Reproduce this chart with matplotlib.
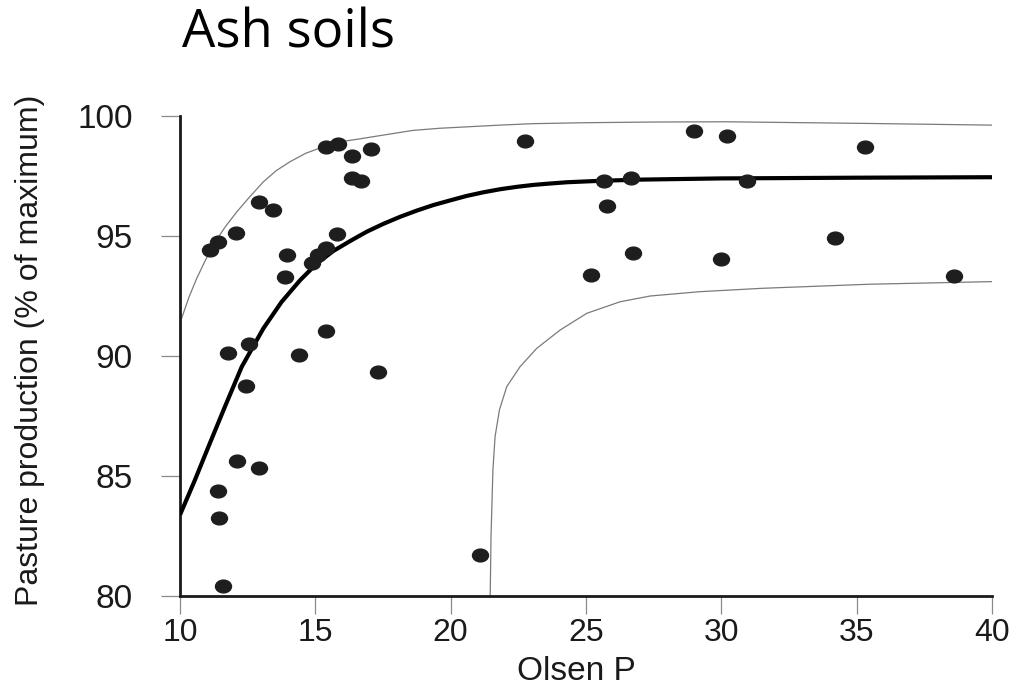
import matplotlib
matplotlib.use("Agg")
import matplotlib.pyplot as plt
from matplotlib.path import Path

# puntos medidos (Olsen P, % del maximo)
olsen_p = [11.11, 11.42, 12.07, 12.92, 13.45, 13.94, 13.88, 14.87, 15.11, 15.38,
           15.81, 15.38, 15.83, 16.35, 17.06, 16.35, 16.69, 15.38, 11.78, 12.56,
           14.41, 17.33, 12.44, 12.10, 12.93, 11.42, 11.44, 11.60, 22.73, 28.98,
           30.19, 35.31, 25.68, 26.67, 30.93, 25.77, 34.19, 26.74, 29.97, 25.19,
           38.61, 21.09]
pasture = [94.42, 94.76, 95.11, 96.43, 96.08, 94.21, 93.30, 93.86, 94.21, 94.51,
           95.07, 98.72, 98.82, 98.33, 98.61, 97.43, 97.29, 91.04, 90.14, 90.50,
           90.04, 89.35, 88.75, 85.63, 85.35, 84.38, 83.24, 80.42, 98.97, 99.39,
           99.18, 98.70, 97.29, 97.43, 97.29, 96.26, 94.93, 94.29, 94.04, 93.38,
           93.35, 81.72]

# curva ajustada
fit_x = [10.0, 10.55, 11.05, 11.66, 12.28, 13.08, 13.75, 14.43, 15.05, 15.67,
         16.3, 16.90, 17.5, 18.13, 18.75, 19.36, 20.0, 20.59, 21.2, 21.83,
         22.45, 23.06, 23.7, 24.29, 25.52, 27.0, 30.0, 35.0, 40.0]
fit_y = [83.38, 84.83, 86.22, 87.89, 89.55, 91.15, 92.25, 93.15, 93.85, 94.38,
         94.8, 95.18, 95.5, 95.80, 96.06, 96.29, 96.49, 96.67, 96.82, 96.95,
         97.05, 97.13, 97.19, 97.24, 97.30, 97.35, 97.40, 97.43, 97.45]

# banda superior
up_x = [10.06, 10.33, 10.62, 10.9, 11.23, 11.65, 12.10, 12.55, 13.08, 13.55,
        14.07, 14.65, 15.30, 15.95, 16.65, 17.87, 18.6, 19.6, 21.8, 23.0,
        24.9, 27.5, 30.17, 35.45, 40.0]
up_y = [91.57, 92.45, 93.24, 93.9, 94.63, 95.35, 96.01, 96.6, 97.26, 97.72,
        98.10, 98.45, 98.72, 98.93, 99.05, 99.27, 99.4, 99.49, 99.62, 99.68,
        99.72, 99.75, 99.76, 99.69, 99.62]

# banda inferior
lo_x = [21.46, 21.49, 21.56, 21.64, 21.80, 22.07, 22.56, 23.18, 24.04, 25.03,
        26.26, 27.37, 29.2, 31.49, 35.45, 40.0]
lo_y = [80.0, 82.47, 85.25, 86.64, 87.75, 88.72, 89.55, 90.32, 91.08, 91.78,
        92.26, 92.5, 92.68, 92.82, 92.99, 93.10]

x_ticks = [10, 15, 20, 25, 30, 35, 40]
y_ticks = [80, 85, 90, 95, 100]

fig = plt.figure(figsize=(10.13, 6.91), dpi=100)
ax = fig.add_axes([0.1777, 0.1375, 0.8016, 0.6946])

ax.plot(up_x, up_y, color="#7a7a7a", lw=0.9, zorder=2)
ax.plot(lo_x, lo_y, color="#7a7a7a", lw=0.9, zorder=2)
ax.plot(fit_x, fit_y, color="black", lw=3.0, solid_capstyle="butt",
        solid_joinstyle="round", zorder=3)

# marcador eliptico, un poco mas ancho que alto
circ = Path.unit_circle()
elipse = Path(circ.vertices * [1.0, 0.8], circ.codes)
ax.plot(olsen_p, pasture, linestyle="none", marker=elipse, markersize=11.5,
        color="#1e1e1e", zorder=4)

ax.set_xlim(10, 40)
ax.set_ylim(80, 100)
ax.set_xticks(x_ticks)
ax.set_yticks(y_ticks)

for s in ["top", "right"]:
    ax.spines[s].set_visible(False)
for s in ["left", "bottom"]:
    ax.spines[s].set_linewidth(2.0)
    ax.spines[s].set_color("#1a1a1a")

tick_font = ["Liberation Sans", "DejaVu Sans"]
ax.tick_params(axis="y", length=14, width=0.9, color="#8a8a8a", pad=20,
               labelsize=24)
ax.tick_params(axis="x", length=13, width=0.9, color="#8a8a8a", pad=3,
               labelsize=23)
for lab in ax.get_xticklabels() + ax.get_yticklabels():
    lab.set_family(tick_font)
    lab.set_color("#1a1a1a")

fig.text(576 / 1013, 1 - 672 / 691, "Olsen P", ha="center", va="center",
         fontsize=24, family=tick_font, color="#1a1a1a")
fig.text(30 / 1013, 1 - 350 / 691, "Pasture production (% of maximum)",
         rotation=90, ha="center", va="center", fontsize=23,
         family=tick_font, color="#1a1a1a")

fig.text(182 / 1013, 1 - 48 / 691, "Ash soils", ha="left", va="baseline",
         fontsize=38, family=["Open Sans", "DejaVu Sans"], color="black")

fig.savefig("out.png", dpi=100)
plt.close(fig)
